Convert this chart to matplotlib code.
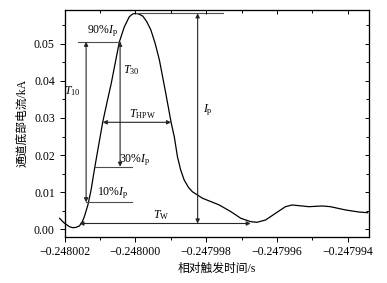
import numpy as np
import matplotlib
matplotlib.use("Agg")
from matplotlib import pyplot as plt
from matplotlib.ticker import MultipleLocator, FuncFormatter

plt.rcParams['font.family'] = ['Liberation Serif', 'Noto Sans CJK SC']
plt.rcParams['mathtext.fontset'] = 'custom'
plt.rcParams['mathtext.rm'] = 'Liberation Serif'
plt.rcParams['mathtext.it'] = 'Liberation Serif:italic'

# curve: time (s), current (kA)
time_s = [-0.24800214, -0.24800200, -0.24800186, -0.24800177, -0.24800168, -0.24800158,
          -0.24800150, -0.24800144, -0.24800134, -0.24800125, -0.24800115, -0.24800101,
          -0.24800092, -0.24800080, -0.24800068, -0.24800056, -0.24800045, -0.24800031,
          -0.24800017, -0.24800008, -0.24800000, -0.24799990, -0.24799979, -0.24799968,
          -0.24799956, -0.24799944, -0.24799932, -0.24799914, -0.24799899, -0.24799890,
          -0.24799881, -0.24799872, -0.24799862, -0.24799850, -0.24799839, -0.24799810,
          -0.24799785, -0.24799763, -0.24799730, -0.24799702, -0.24799674, -0.24799656,
          -0.24799632, -0.24799604, -0.24799576, -0.24799557, -0.24799529, -0.24799510,
          -0.24799472, -0.24799449, -0.24799406, -0.24799369, -0.24799344]
current_ka = [0.00296, 0.00162, 0.00070, 0.00043, 0.00050, 0.00089,
              0.00200, 0.00340, 0.00655, 0.01059, 0.01643, 0.02406,
              0.02891, 0.03420, 0.03933, 0.04520, 0.05054, 0.05458,
              0.05727, 0.05800, 0.05819, 0.05800, 0.05746, 0.05600,
              0.05369, 0.05010, 0.04561, 0.03664, 0.02883, 0.02495,
              0.01956, 0.01600, 0.01328, 0.01130, 0.01013, 0.00835,
              0.00740, 0.00655, 0.00474, 0.00296, 0.00205, 0.00189,
              0.00251, 0.00431, 0.00609, 0.00655, 0.00628, 0.00609,
              0.00628, 0.00609, 0.00520, 0.00466, 0.00447]

i_peak = 0.0582
lvl_90 = 0.05054
lvl_30 = 0.01686
lvl_10 = 0.00727
lvl_hpw = 0.02883
lvl_w = 0.00156

fig = plt.figure(figsize=(3.87, 2.83), dpi=100)
ax = fig.add_axes([0.1667, 0.1636, 0.7868, 0.8011])
ax.plot(time_s, current_ka, color='k', lw=0.9, clip_on=False)

ax.set_xlim(-0.248002, -0.2479934)
ax.set_ylim(-0.002, 0.0591)
ax.xaxis.set_major_locator(MultipleLocator(2e-6))
ax.xaxis.set_minor_locator(MultipleLocator(1e-6))
ax.yaxis.set_major_locator(MultipleLocator(0.01))
ax.yaxis.set_minor_locator(MultipleLocator(0.005))
ax.xaxis.set_major_formatter(FuncFormatter(
    lambda v, p: ('\u2212' if v < 0 else '') + '%.6f' % abs(v)))
ax.yaxis.set_major_formatter(FuncFormatter(lambda v, p: '%.2f' % v))
ax.tick_params(which='both', direction='out', labelsize=8.5, width=0.7)
ax.tick_params(which='major', length=3.5)
ax.tick_params(which='minor', length=2)
for s in ax.spines.values():
    s.set_linewidth(0.8)

# mirrored ticks on top and right
axt = ax.twiny()
axt.set_xlim(ax.get_xlim())
axt.xaxis.set_major_locator(MultipleLocator(2e-6))
axt.xaxis.set_minor_locator(MultipleLocator(1e-6))
axt.tick_params(which='both', direction='in', labeltop=False, width=0.7)
axt.tick_params(which='major', length=3)
axt.tick_params(which='minor', length=2)
axr = ax.twinx()
axr.set_ylim(ax.get_ylim())
axr.yaxis.set_major_locator(MultipleLocator(0.01))
axr.yaxis.set_minor_locator(MultipleLocator(0.005))
axr.tick_params(which='both', direction='in', labelright=False, width=0.7)
axr.tick_params(which='major', length=3)
axr.tick_params(which='minor', length=2)

ax.set_xlabel('相对触发时间/s', fontsize=8.5, labelpad=3)
ax.set_ylabel('通道底部电流/kA', fontsize=8.5, labelpad=4)

lc = '0.3'
ax.plot([-0.24800163, -0.24800042], [lvl_90, lvl_90], color=lc, lw=0.8)
ax.plot([-0.24800115, -0.24800008], [lvl_30, lvl_30], color=lc, lw=0.8)
ax.plot([-0.24800139, -0.24800008], [lvl_10, lvl_10], color=lc, lw=0.8)
ax.plot([-0.248000, -0.24799752], [i_peak, i_peak], color=lc, lw=0.8)

arr = dict(arrowstyle='<|-|>', lw=0.8, color='0.15', mutation_scale=6,
           shrinkA=0, shrinkB=0)
ax.annotate('', xy=(-0.24800139, lvl_90), xytext=(-0.24800139, lvl_10), arrowprops=arr)
ax.annotate('', xy=(-0.24800043, lvl_90), xytext=(-0.24800043, lvl_30), arrowprops=arr)
ax.annotate('', xy=(-0.24800092, lvl_hpw), xytext=(-0.24799899, lvl_hpw), arrowprops=arr)
ax.annotate('', xy=(-0.24799824, i_peak), xytext=(-0.24799824, lvl_w), arrowprops=arr)
ax.annotate('', xy=(-0.24800158, lvl_w), xytext=(-0.24799674, lvl_w), arrowprops=arr)

fs = 8.5
ax.text(-0.24800093, 0.05342, r'90%$I_{\mathrm{p}}$', fontsize=fs, ha='center', va='center')
ax.text(-0.24800011, 0.04292, r'$T_{30}$', fontsize=fs, ha='center', va='center')
ax.text(-0.24800177, 0.03726, r'$T_{10}$', fontsize=fs, ha='center', va='center')
ax.text(-0.24799979, 0.03106, r'$T_{\mathrm{HPW}}$', fontsize=fs, ha='center', va='center')
ax.text(-0.24800003, 0.01867, r'30%$I_{\mathrm{p}}$', fontsize=fs, ha='center', va='center')
ax.text(-0.24800065, 0.00978, r'10%$I_{\mathrm{p}}$', fontsize=fs, ha='center', va='center')
ax.text(-0.24799794, 0.03211, r'$I_{\mathrm{p}}$', fontsize=fs, ha='center', va='center')
ax.text(-0.24799927, 0.00385, r'$T_{\mathrm{W}}$', fontsize=fs, ha='center', va='center')

fig.savefig('out.png', dpi=100)
